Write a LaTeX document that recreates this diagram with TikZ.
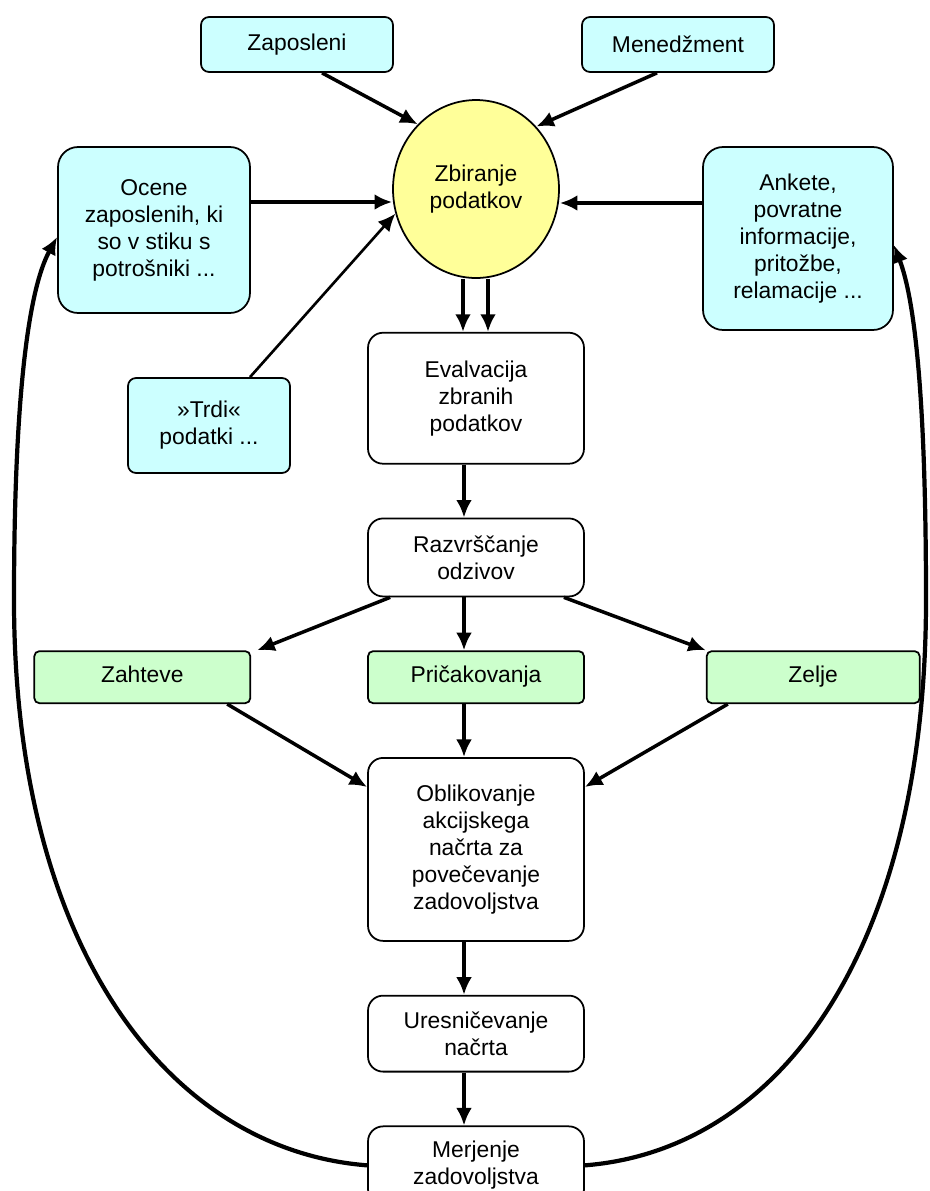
\documentclass[tikz,border=0pt]{standalone}
\usepackage{fontspec}
\setmainfont{Liberation Sans}
\usetikzlibrary{shapes.geometric,arrows.meta,positioning}
\definecolor{sourcecyan}{RGB}{204,255,255}
\definecolor{kindgreen}{RGB}{204,255,204}
\definecolor{gatheryellow}{RGB}{255,255,153}

\begin{document}
\begin{tikzpicture}[x=0.02cm, y=-0.02cm, node distance=1.06cm,
    >={Latex[length=10pt,width=9pt]},
    every node/.style={font=\fontsize{13}{15.4}\selectfont, align=center, line width=1pt},
    source/.style={draw, fill=sourcecyan, rounded corners=0.16cm},
    stage/.style={draw, fill=white, rounded corners=0.3cm, minimum width=4.32cm},
    kind/.style={draw, fill=kindgreen, rounded corners=0.1cm, minimum height=1.04cm, text height=1.7ex, text depth=.5ex},
    flow/.style={->, line width=2pt}]
        \useasboundingbox (0,0) rectangle (930,1191);

        % Sources
        \node [source, minimum width=3.84cm, minimum height=1.1cm] (zap) at (297,44.5) {Zaposleni};
        \node [source, minimum width=3.84cm, minimum height=1.1cm] (men) at (678,44.5) {Menedžment};
        \node [source, rounded corners=0.4cm, minimum width=3.84cm, minimum height=3.32cm] (ocene) at (154,230) {Ocene\\zaposlenih, ki\\so v stiku s\\potrošniki ...};
        \node [source, rounded corners=0.4cm, minimum width=3.8cm, minimum height=3.66cm] (ank) at (798,238.5) {Ankete,\\povratne\\informacije,\\pritožbe,\\relamacije ...};
        \node [source, minimum width=3.24cm, minimum height=1.9cm] (trdi) at (209,425.5) {»Trdi«\\podatki ...};

        % Gathering
        \node [draw, ellipse, fill=gatheryellow, minimum width=3.32cm, minimum height=3.56cm, inner sep=0pt] (zbir) at (476,189) {Zbiranje\\podatkov};

        % Main column
        \node [stage, below=of zbir, minimum height=2.62cm] (eval) {Evalvacija\\zbranih\\podatkov};
        \node [stage, below=of eval, minimum height=1.56cm] (razv) {Razvrščanje\\odzivov};
        \node [kind, below=of razv, minimum width=4.32cm] (prica) {Pričakovanja};
        \node [kind, left=2.32cm of prica, minimum width=4.32cm] (zaht) {Zahteve};
        \node [kind, right=2.42cm of prica, minimum width=4.26cm] (zelje) {Zelje};
        \node [stage, below=of prica, minimum height=3.66cm] (oblik) {Oblikovanje\\akcijskega\\načrta za\\povečevanje\\zadovoljstva};
        \node [stage, below=of oblik, minimum height=1.52cm] (ures) {Uresničevanje\\načrta};
        \node [stage, below=of ures, minimum height=1.56cm] (merj) {Merjenje\\zadovoljstva};

        % Arrows into gathering
        \draw [flow] ([xshift=.5cm]zap.south) -- (zbir.132);
        \draw [flow] ([xshift=-.42cm]men.south) -- (zbir.46);
        \draw [flow, line width=2.6pt] ([yshift=.56cm]ocene.east) -- ([yshift=.56cm]ocene.east -| zbir.west);
        \draw [flow, line width=2.6pt] ([yshift=.71cm]ank.west) -- ([yshift=.71cm]ank.west -| zbir.east);
        \draw [flow, line width=1.5pt] ([xshift=.82cm]trdi.north) -- (zbir.197);

        % Arrows down the column
        \draw [flow] ([xshift=-.26cm]zbir.south) -- ([xshift=-.26cm]eval.north);
        \draw [flow] ([xshift=.24cm]zbir.south) -- ([xshift=.24cm]eval.north);
        \draw [flow] ([xshift=-.24cm]eval.south) -- ([xshift=-.24cm]razv.north);
        \draw [flow] ([xshift=.46cm]razv.south west) -- ([xshift=.12cm]zaht.north east);
        \draw [flow] ([xshift=-.24cm]razv.south) -- ([xshift=-.24cm]prica.north);
        \draw [flow] ([xshift=-.42cm]razv.south east) -- (zelje.north west);
        \draw [flow] ([xshift=-.48cm]zaht.south east) -- ([yshift=-.6cm]oblik.north west);
        \draw [flow] ([xshift=-.24cm]prica.south) -- ([xshift=-.24cm]oblik.north);
        \draw [flow] ([xshift=.44cm]zelje.south west) -- ([yshift=-.6cm]oblik.north east);
        \draw [flow] ([xshift=-.24cm]oblik.south) -- ([xshift=-.24cm]ures.north);
        \draw [flow] ([xshift=-.24cm]ures.south) -- ([xshift=-.24cm]merj.north);

        % Feedback loops
        \draw [flow, line width=2.4pt] (merj.west) .. controls (170,1150) and (14,950) .. (14,600) .. controls (14,400) and (28,290) .. ([yshift=-.14cm]ocene.west);
        \draw [flow, line width=2.4pt] (merj.east) .. controls (780,1150) and (926,950) .. (926,600) .. controls (926,400) and (915,300) .. ([yshift=-.13cm]ank.east);
    \end{tikzpicture}
\end{document}
